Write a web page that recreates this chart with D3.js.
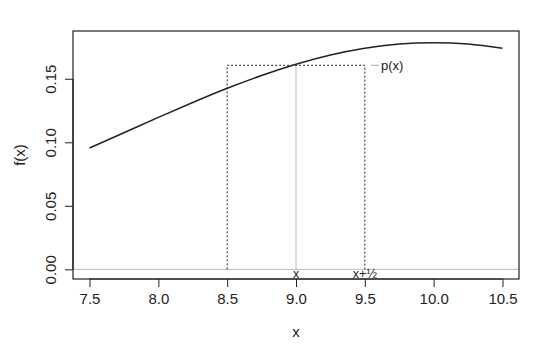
<!DOCTYPE html>
<html><head><meta charset="utf-8">
<script src="https://cdn.jsdelivr.net/npm/d3@7"></script>
<style>body{margin:0;background:#fff}svg{display:block;font-family:"Liberation Sans",Arial,sans-serif}</style>
</head><body><svg id="c" width="540" height="353"></svg>
<script>
const curveX = [7.5,7.75,8.0,8.25,8.5,8.75,9.0,9.25,9.5,9.75,10.0,10.25,10.5];
const curveY = [0.0955,0.1075,0.1196,0.1313,0.1425,0.1526,0.1614,0.1687,0.1740,0.1773,0.1784,0.1773,0.1740];
const xTicks = [7.5,8.0,8.5,9.0,9.5,10.0,10.5];
const yTicks = [0.00,0.05,0.10,0.15];
const px = 9.0, pxVal = 0.1606, halfLeft = 8.5, halfRight = 9.5;

const svg = d3.select("#c");
const L=73, R=519, T=31, B=279;
const x = d3.scaleLinear().domain([7.38,10.62]).range([L,R]);
const y = d3.scaleLinear().domain([-0.0076,0.1876]).range([B,T]);

svg.append("line").attr("x1",L).attr("x2",R).attr("y1",y(0)).attr("y2",y(0)).attr("stroke","#bbb").attr("stroke-width",1);
svg.append("line").attr("x1",x(px)).attr("x2",x(px)).attr("y1",y(0)).attr("y2",y(pxVal)).attr("stroke","#bbb").attr("stroke-width",1);
svg.append("path").attr("d",`M${x(halfLeft)},${y(0)}V${y(pxVal)}H${x(halfRight)}V${y(0)}`)
  .attr("fill","none").attr("stroke","#222").attr("stroke-width",1).attr("stroke-dasharray","2,2");
const pts = curveX.map((v,i)=>[v,curveY[i]]);
svg.append("path").datum(pts).attr("d",d3.line().x(d=>x(d[0])).y(d=>y(d[1])).curve(d3.curveNatural))
  .attr("fill","none").attr("stroke","#222").attr("stroke-width",1.5);
svg.append("rect").attr("x",L).attr("y",T).attr("width",R-L).attr("height",B-T).attr("fill","none").attr("stroke","#222").attr("stroke-width",1.2);

const xa = svg.append("g").attr("transform",`translate(0,${B})`)
  .call(d3.axisBottom(x).tickValues(xTicks).tickFormat(d3.format(".1f")).tickSize(8).tickPadding(6));
xa.select(".domain").attr("d",`M${x(7.5)},0H${x(10.5)}`).attr("stroke","#222").attr("stroke-width",1.2);
xa.selectAll("text").attr("font-size",15).attr("fill","#222").attr("font-family","Liberation Sans, Arial");
xa.selectAll("line").attr("stroke","#222");

const ya = svg.append("g").attr("transform",`translate(${L},0)`)
  .call(d3.axisLeft(y).tickValues(yTicks).tickFormat(d3.format(".2f")).tickSize(8).tickPadding(6));
ya.select(".domain").attr("d",`M0,${y(0)}V${y(0.15)}`).attr("stroke","#222").attr("stroke-width",1.2);
ya.selectAll("line").attr("stroke","#222");
ya.selectAll("text").attr("font-size",15).attr("fill","#222").attr("font-family","Liberation Sans, Arial")
  .attr("text-anchor","middle").attr("dy",null).attr("x",null)
  .attr("transform","translate(-23,0) rotate(-90)").attr("dominant-baseline","central");

svg.append("text").attr("x",x(9)).attr("y",337).attr("text-anchor","middle").attr("font-size",15).attr("fill","#222").text("x");
svg.append("text").attr("transform",`translate(25,${(T+B)/2}) rotate(-90)`).attr("text-anchor","middle").attr("font-size",15).attr("fill","#222").text("f(x)");

svg.append("text").attr("x",x(px)).attr("y",278).attr("text-anchor","middle").attr("font-size",12.5).attr("fill","#222").text("x");
svg.append("text").attr("x",x(halfRight)).attr("y",278).attr("text-anchor","middle").attr("font-size",12.5).attr("fill","#222").text("x+½");
svg.append("line").attr("x1",371).attr("x2",379).attr("y1",y(pxVal)).attr("y2",y(pxVal)).attr("stroke","#aaa");
svg.append("text").attr("x",381).attr("y",y(pxVal)).attr("dominant-baseline","central").attr("font-size",13).attr("fill","#222").text("p(x)");
</script></body></html>
